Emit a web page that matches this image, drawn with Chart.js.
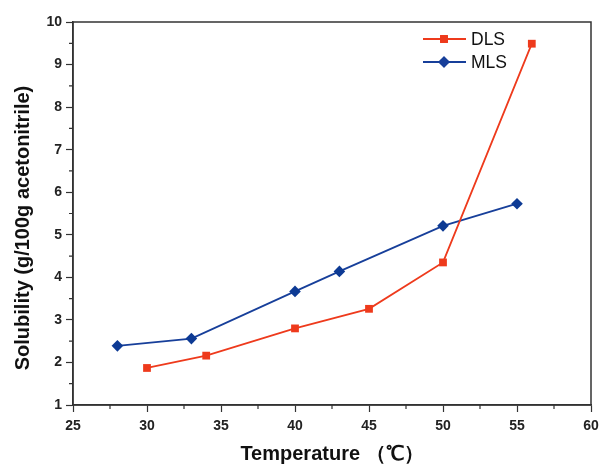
<!DOCTYPE html>
<html>
<head>
<meta charset="utf-8">
<script src="https://cdn.jsdelivr.net/npm/chart.js@4.4.1/dist/chart.umd.min.js"></script>
<style>
  html, body { margin: 0; padding: 0; background: #fff; }
  #wrap { width: 601px; height: 470px; }
</style>
</head>
<body>
<div id="wrap"><canvas id="solChart" width="601" height="470"></canvas></div>
<script>
const dlsTemp = [30, 34, 40, 45, 50, 56];
const dlsSol  = [1.87, 2.16, 2.80, 3.26, 4.35, 9.49];
const mlsTemp = [28, 33, 40, 43, 50, 55];
const mlsSol  = [2.39, 2.56, 3.67, 4.14, 5.21, 5.73];
const seriesNames = ["DLS", "MLS"];
const xTitle = "Temperature （℃）";
const yTitle = "Solubility (g/100g acetonitrile)";

const RED  = "#ee3a1c";
const BLUE = "#173f9a";
const AXIS = "#333";
const FONT = "'Liberation Sans', Arial, sans-serif";

const toPoints = (xs, ys) => xs.map((x, i) => ({ x, y: ys[i] }));

/* frame, minor ticks, y title and legend */
const decorations = {
  id: "decorations",
  afterDraw(chart) {
    const { ctx, chartArea: a, scales } = chart;
    ctx.save();
    ctx.strokeStyle = AXIS;
    ctx.lineWidth = 1.5;
    ctx.strokeRect(a.left, a.top, a.right - a.left, a.bottom - a.top);

    // minor ticks
    ctx.lineWidth = 1.2;
    ctx.beginPath();
    for (let v = 27.5; v < 60; v += 5) {
      const px = scales.x.getPixelForValue(v);
      ctx.moveTo(px, a.bottom);
      ctx.lineTo(px, a.bottom + 4);
    }
    for (let v = 1.5; v < 10; v += 1) {
      const py = scales.y.getPixelForValue(v);
      ctx.moveTo(a.left, py);
      ctx.lineTo(a.left - 4, py);
    }
    ctx.stroke();

    // y title
    ctx.save();
    ctx.translate(23, 228);
    ctx.rotate(-Math.PI / 2);
    ctx.font = "bold 20px " + FONT;
    ctx.fillStyle = "#111";
    ctx.textAlign = "center";
    ctx.textBaseline = "middle";
    ctx.fillText(yTitle, 0, 0);
    ctx.restore();

    // legend
    const rows = [
      { name: seriesNames[0], color: RED, style: "rect", r: 5.5 },
      { name: seriesNames[1], color: BLUE, style: "rectRot", r: 5.8 }
    ];
    ctx.font = "17.5px " + FONT;
    ctx.textBaseline = "middle";
    rows.forEach((row, i) => {
      const y = 39 + i * 23;
      ctx.strokeStyle = row.color;
      ctx.lineWidth = 1.8;
      ctx.beginPath();
      ctx.moveTo(423, y);
      ctx.lineTo(466, y);
      ctx.stroke();
      ctx.fillStyle = row.color;
      Chart.helpers.drawPoint(ctx, { pointStyle: row.style, radius: row.r, borderWidth: 0 }, 444, y);
      ctx.fill();
      ctx.fillStyle = "#111";
      ctx.fillText(row.name, 471, y + 1);
    });
    ctx.restore();
  }
};

new Chart(document.getElementById("solChart"), {
  type: "line",
  data: {
    datasets: [
      {
        label: seriesNames[0],
        data: toPoints(dlsTemp, dlsSol),
        borderColor: RED,
        backgroundColor: RED,
        borderWidth: 1.8,
        pointStyle: "rect",
        pointRadius: 5.5,
        pointBorderWidth: 0,
        tension: 0
      },
      {
        label: seriesNames[1],
        data: toPoints(mlsTemp, mlsSol),
        borderColor: BLUE,
        backgroundColor: "#0d3a94",
        borderWidth: 1.8,
        pointStyle: "rectRot",
        pointRadius: 5.8,
        pointBorderWidth: 0,
        tension: 0
      }
    ]
  },
  options: {
    responsive: false,
    animation: false,
    layout: { padding: { top: 22, right: 10, left: 0, bottom: 0 } },
    plugins: { legend: { display: false }, tooltip: { enabled: false } },
    scales: {
      x: {
        type: "linear",
        min: 25, max: 60,
        afterFit: s => { s.height = 65; s.paddingRight = 0; s.paddingLeft = 0; },
        ticks: { stepSize: 5, padding: 6, color: "#222", font: { family: FONT, size: 14, weight: "bold" } },
        grid: { drawOnChartArea: false, tickLength: 7, tickColor: AXIS, tickWidth: 1.2 },
        border: { color: AXIS, width: 1.5 },
        title: {
          display: true, text: xTitle, color: "#111",
          font: { family: FONT, size: 20, weight: "bold" }, padding: { top: 5 }
        }
      },
      y: {
        min: 1, max: 10,
        afterFit: s => { s.width = 73; s.paddingTop = 0; s.paddingBottom = 0; },
        ticks: { stepSize: 1, padding: 4, color: "#222", font: { family: FONT, size: 14, weight: "bold" } },
        grid: { drawOnChartArea: false, tickLength: 7, tickColor: AXIS, tickWidth: 1.2 },
        border: { color: AXIS, width: 1.5 }
      }
    }
  },
  plugins: [decorations]
});
</script>
</body>
</html>
